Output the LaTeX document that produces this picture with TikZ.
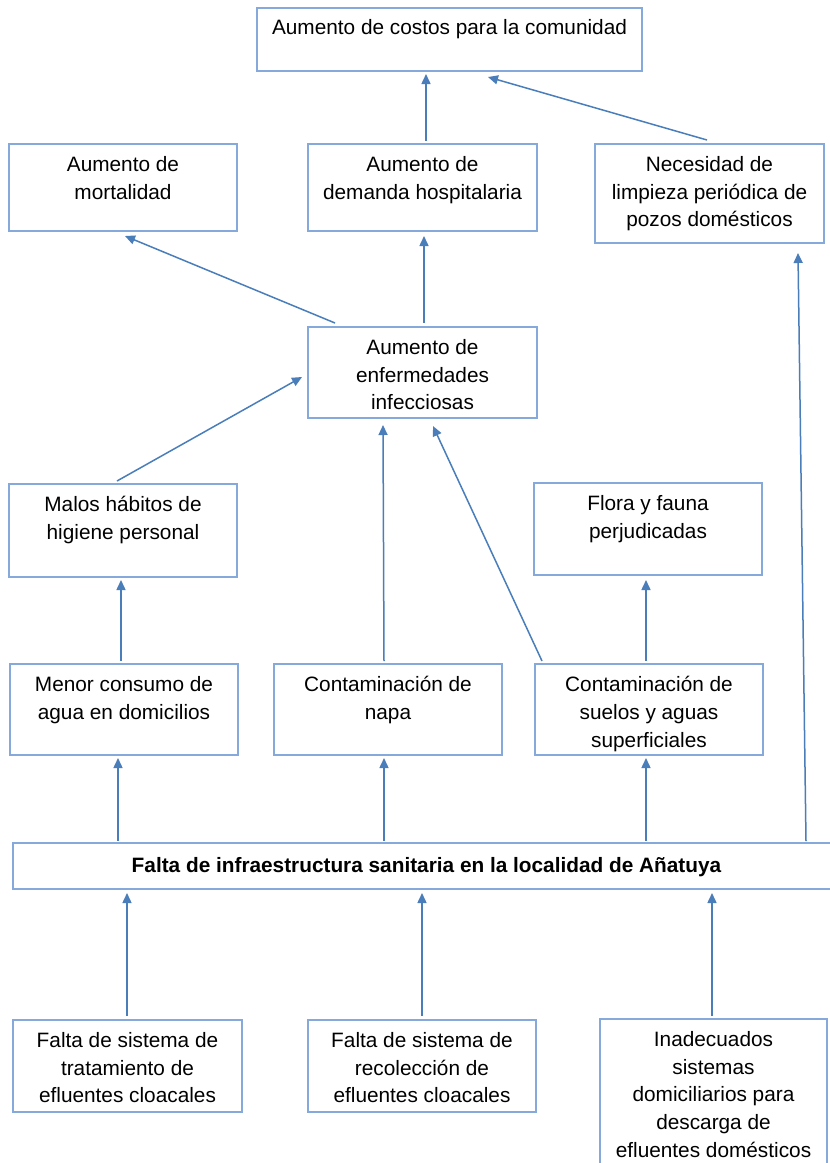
\documentclass[tikz,border=0pt]{standalone}
\usepackage{fontspec}
\setmainfont{Liberation Sans}
\usetikzlibrary{arrows.meta}
\definecolor{boxline}{HTML}{84A9DA}
\definecolor{arrowline}{HTML}{4A7EBB}
\newcommand\txtsize{\fontsize{20.8}{27.8}\selectfont}
% \cbox[text offset]{name}{x1}{y1}{x2}{y2}{text}: framed cell with its text set from the top
\newcommand\cbox[6][12pt]{%
  \node[cell, minimum width={#5-#3}, minimum height={#6-#4}] (#2) at ({(#3+#5)/2},{(#4+#6)/2}) {};
  \celltext{#2}{#1}%
}
\newcommand\celltext[3]{\node[celltext] (#1-text) at ([yshift=-#2]#1.north) {#3};}
\tikzset{
  cell/.style={draw=boxline, line width=1.2pt, fill=white, inner sep=0pt, outer sep=0pt},
  celltext/.style={anchor=north, inner sep=0pt, align=center, font=\txtsize, execute at begin node=\strut},
  arr/.style={draw=arrowline, line width=1.5pt, -{Triangle[length=10pt,width=9pt]}},
}
\begin{document}
\begin{tikzpicture}[x=1pt, y=-1pt]
\useasboundingbox (0,0) rectangle (830,1163);
\fill[white] (0,0) rectangle (830,1163);

% effects
\cbox[7pt]{top}{257}{8}{642}{71}{Aumento de costos para la comunidad}
\cbox{mort}{9}{144}{237}{231}{Aumento de\\mortalidad}
\cbox{dem}{308}{144}{537}{231}{Aumento de\\demanda hospitalaria}
\cbox{nec}{595}{144}{824}{243}{Necesidad de\\limpieza periódica de\\pozos domésticos}
\cbox{enf}{308}{327}{537}{418}{Aumento de\\enfermedades\\infecciosas}
\cbox{mal}{9}{484}{237}{577}{Malos hábitos de\\higiene personal}
\cbox{flo}{534}{483}{762}{575}{Flora y fauna\\perjudicadas}
\cbox{men}{10}{664}{238}{755}{Menor consumo de\\agua en domicilios}
\cbox{nap}{274}{664}{502}{755}{Contaminación de\\napa}
\cbox{sue}{535}{664}{763}{755}{Contaminación de\\suelos y aguas\\superficiales}

% central problem
\node[cell, minimum width=827, minimum height=46] (main) at (426.5,866) {};
\node[font=\txtsize\bfseries, inner sep=0pt] (main-text) at ([yshift=-1pt]main.center) {Falta de infraestructura sanitaria en la localidad de Añatuya};

% causes
\cbox{tra}{13}{1020}{242}{1112}{Falta de sistema de\\tratamiento de\\efluentes cloacales}
\cbox{rec}{308}{1020}{536}{1112}{Falta de sistema de\\recolección de\\efluentes cloacales}
\cbox{ina}{600}{1019}{827}{1190}{Inadecuados\\sistemas\\domiciliarios para\\descarga de\\efluentes domésticos}

% connectors
\draw[arr] ([xshift=118pt,yshift=3pt]dem.north west) -- ([xshift=169pt,yshift=-3pt]top.south west);
\draw[arr] ([xshift=112pt,yshift=4pt]nec.north west) -- ([xshift=231pt,yshift=-6pt]top.south west);
\draw[arr] ([xshift=27pt,yshift=4pt]enf.north west) -- ([xshift=116pt,yshift=-5pt]mort.south west);
\draw[arr] ([xshift=116pt,yshift=4pt]enf.north west) -- ([xshift=116pt,yshift=-5pt]dem.south west);
\draw[arr] ([xshift=108pt,yshift=3pt]mal.north west) -- ([xshift=-6pt,yshift=41pt]enf.south west);
\draw[arr] ([xshift=110pt,yshift=3pt]nap.north west) -- ([xshift=75pt,yshift=-7pt]enf.south west);
\draw[arr] ([xshift=7pt,yshift=3pt]sue.north west) -- ([xshift=125pt,yshift=-8pt]enf.south west);
\draw[arr] ([xshift=111pt,yshift=3pt]men.north west) -- ([xshift=112pt,yshift=-3pt]mal.south west);
\draw[arr] ([xshift=111pt,yshift=3pt]sue.north west) -- ([xshift=112pt,yshift=-5pt]flo.south west);
\draw[arr] ([xshift=105pt,yshift=2pt]main.north west) -- ([xshift=108pt,yshift=-3pt]men.south west);
\draw[arr] ([xshift=371pt,yshift=2pt]main.north west) -- ([xshift=110pt,yshift=-3pt]nap.south west);
\draw[arr] ([xshift=633pt,yshift=2pt]main.north west) -- ([xshift=111pt,yshift=-3pt]sue.south west);
\draw[arr] ([xshift=793pt,yshift=2pt]main.north west) -- ([xshift=203pt,yshift=-10pt]nec.south west);
\draw[arr] ([xshift=114pt,yshift=4pt]tra.north west) -- ([xshift=114pt,yshift=-4pt]main.south west);
\draw[arr] ([xshift=114pt,yshift=4pt]rec.north west) -- ([xshift=409pt,yshift=-4pt]main.south west);
\draw[arr] ([xshift=112pt,yshift=3pt]ina.north west) -- ([xshift=699pt,yshift=-4pt]main.south west);
\end{tikzpicture}
\end{document}
